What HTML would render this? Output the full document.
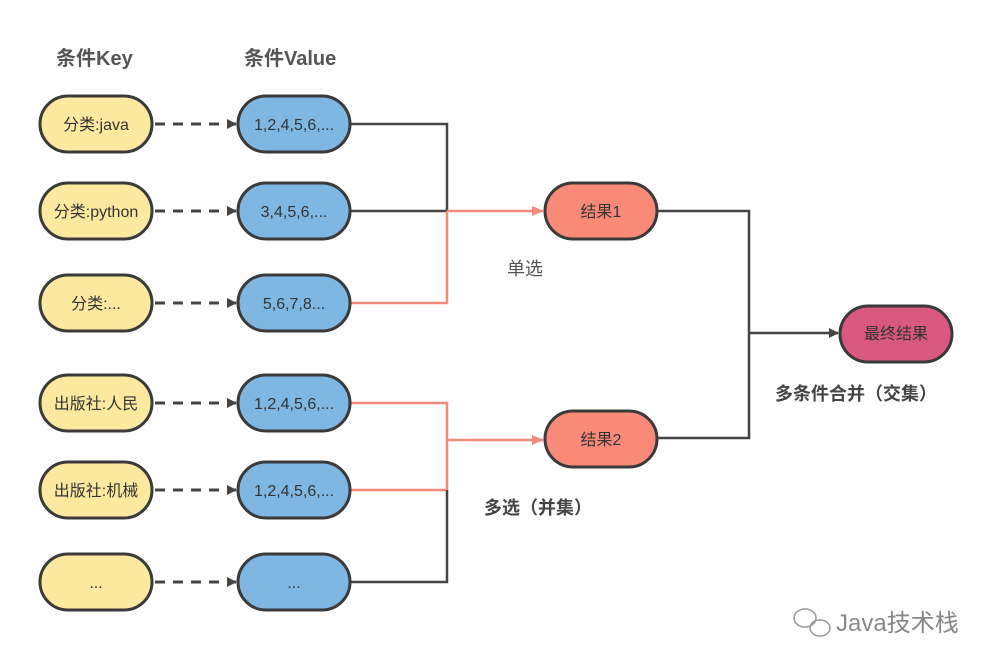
<!DOCTYPE html>
<html><head><meta charset="utf-8"><style>
body{margin:0;background:#fff}
svg text{font-family:"Liberation Sans","Noto Sans CJK SC",sans-serif}
</style></head><body>
<svg width="1000" height="665" viewBox="0 0 1000 665" xmlns="http://www.w3.org/2000/svg">
<defs>
<marker id="ad" markerWidth="10" markerHeight="10" refX="9" refY="5" orient="auto" markerUnits="userSpaceOnUse"><path d="M0,0 L10,5 L0,10z" fill="#444"/></marker>
<marker id="ar" markerWidth="12" markerHeight="10" refX="11" refY="5" orient="auto" markerUnits="userSpaceOnUse"><path d="M0,0 L12,5 L0,10z" fill="#f28c7a"/></marker>
</defs>
<text x="56" y="65" font-size="20" fill="#555" font-weight="bold">条件Key</text>
<text x="244" y="65" font-size="20" fill="#555" font-weight="bold">条件Value</text>
<g stroke="#444" stroke-width="3" stroke-dasharray="10,8" fill="none">
<line x1="155" y1="124" x2="236" y2="124" marker-end="url(#ad)"/>
<line x1="155" y1="211" x2="236" y2="211" marker-end="url(#ad)"/>
<line x1="155" y1="303" x2="236" y2="303" marker-end="url(#ad)"/>
<line x1="155" y1="403" x2="236" y2="403" marker-end="url(#ad)"/>
<line x1="155" y1="490" x2="236" y2="490" marker-end="url(#ad)"/>
<line x1="155" y1="582" x2="236" y2="582" marker-end="url(#ad)"/>
</g>
<g fill="none" stroke-width="2.5">
<polyline points="350,124 447,124 447,211 350,211" stroke="#444"/>
<polyline points="350,303 447,303 447,211" stroke="#f28c7a"/>
<line x1="447" y1="211" x2="543" y2="211" stroke="#f28c7a" marker-end="url(#ar)"/>
<polyline points="350,403 447,403 447,490 350,490" stroke="#f28c7a"/>
<polyline points="350,582 447,582 447,490" stroke="#444"/>
<line x1="447" y1="440" x2="543" y2="440" stroke="#f28c7a" marker-end="url(#ar)"/>
<polyline points="657,211 749,211 749,438 657,438" stroke="#444"/>
<line x1="749" y1="333" x2="838" y2="333" stroke="#444" marker-end="url(#ad)"/>
</g>
<g stroke="#3a3a3a" stroke-width="3">
<rect x="40" y="96" width="112" height="56" rx="28" fill="#fde8a0"/>
<rect x="40" y="183" width="112" height="56" rx="28" fill="#fde8a0"/>
<rect x="40" y="275" width="112" height="56" rx="28" fill="#fde8a0"/>
<rect x="40" y="375" width="112" height="56" rx="28" fill="#fde8a0"/>
<rect x="40" y="462" width="112" height="56" rx="28" fill="#fde8a0"/>
<rect x="40" y="554" width="112" height="56" rx="28" fill="#fde8a0"/>
<rect x="238" y="96" width="112" height="56" rx="28" fill="#7fb7e3"/>
<rect x="238" y="183" width="112" height="56" rx="28" fill="#7fb7e3"/>
<rect x="238" y="275" width="112" height="56" rx="28" fill="#7fb7e3"/>
<rect x="238" y="375" width="112" height="56" rx="28" fill="#7fb7e3"/>
<rect x="238" y="462" width="112" height="56" rx="28" fill="#7fb7e3"/>
<rect x="238" y="554" width="112" height="56" rx="28" fill="#7fb7e3"/>
<rect x="545" y="183" width="112" height="56" rx="28" fill="#fa8a78"/>
<rect x="545" y="411" width="112" height="56" rx="28" fill="#fa8a78"/>
<rect x="840" y="306" width="112" height="56" rx="28" fill="#d95880"/>
</g>
<g font-size="16" fill="#333" text-anchor="middle">
<text x="96" y="130">分类:java</text>
<text x="96" y="217">分类:python</text>
<text x="96" y="309">分类:...</text>
<text x="96" y="409">出版社:人民</text>
<text x="96" y="496">出版社:机械</text>
<text x="96" y="588">...</text>
<text x="294" y="130">1,2,4,5,6,...</text>
<text x="294" y="217">3,4,5,6,...</text>
<text x="294" y="309">5,6,7,8...</text>
<text x="294" y="409">1,2,4,5,6,...</text>
<text x="294" y="496">1,2,4,5,6,...</text>
<text x="294" y="588">...</text>
<text x="601" y="217">结果1</text>
<text x="601" y="445">结果2</text>
<text x="896" y="339">最终结果</text>
</g>
<text x="507" y="275" font-size="18" fill="#555">单选</text>
<text x="484" y="514" font-size="18" fill="#444" font-weight="bold">多选（并集）</text>
<text x="775" y="400" font-size="18" fill="#444" font-weight="bold">多条件合并（交集）</text>
<text x="836" y="631" font-size="24" fill="#888">Java技术栈</text>
<g fill="none" stroke="#999" stroke-width="1.5"><ellipse cx="805" cy="618" rx="11" ry="9"/><ellipse cx="820" cy="628" rx="10" ry="8"/></g>
</svg>
</body></html>
